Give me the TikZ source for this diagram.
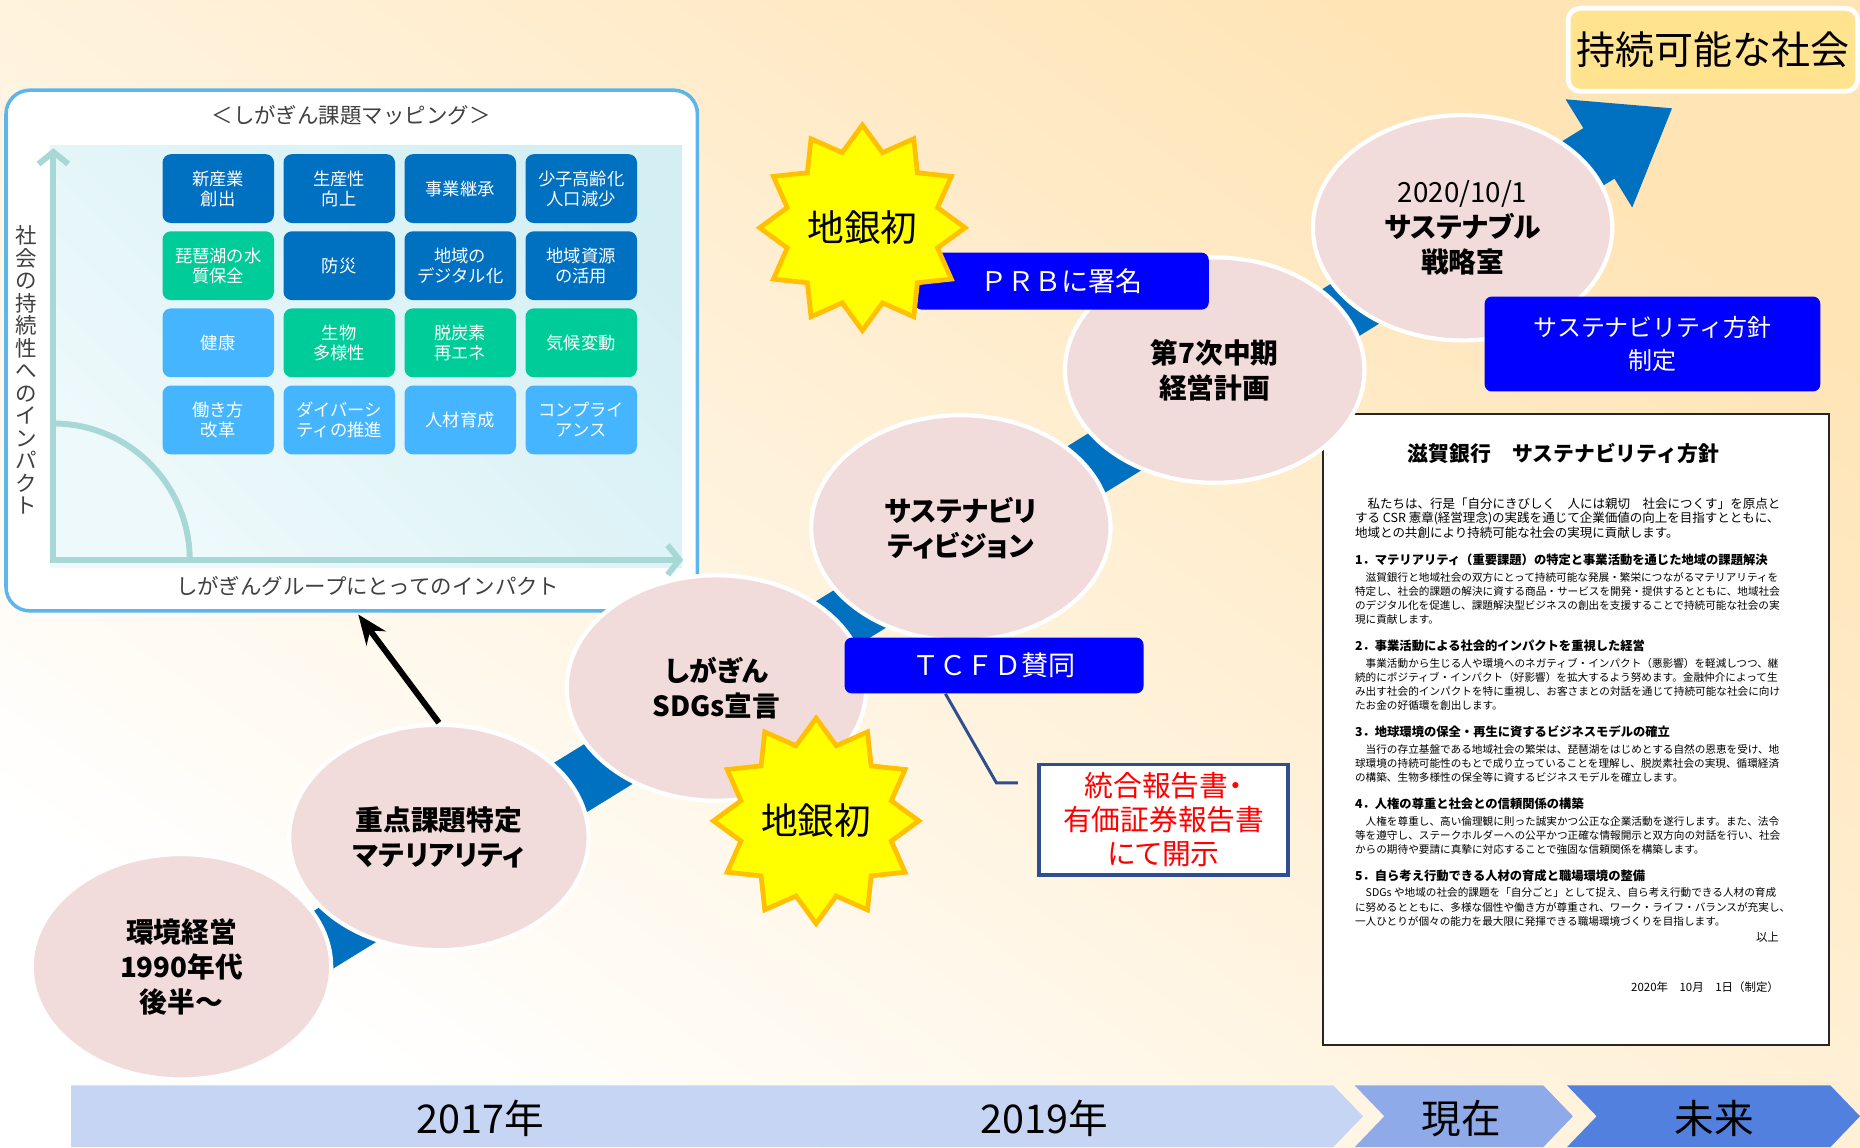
\documentclass[tikz,border=0pt]{standalone}
\usepackage{fontspec}
\setmainfont{Noto Sans CJK JP}
\newfontfamily\milefont[RawFeature=+palt]{Noto Sans CJK JP}
\usepackage{tikz}
\definecolor{BandBlue}{RGB}{0,112,192}
\definecolor{TileDark}{RGB}{0,112,192}
\definecolor{TileGreen}{RGB}{0,204,153}
\definecolor{TileLight}{RGB}{69,181,255}
\definecolor{MilePink}{RGB}{242,220,219}
\definecolor{TagBlue}{RGB}{0,0,255}
\definecolor{BurstYellow}{RGB}{255,255,0}
\definecolor{BurstOrange}{RGB}{255,192,0}
\definecolor{GoalGold}{RGB}{255,227,143}
\definecolor{FrameBlue}{RGB}{91,182,238}
\definecolor{AxisTeal}{RGB}{168,216,214}
\definecolor{PlotPale}{RGB}{238,249,251}
\definecolor{PlotCyan}{RGB}{212,239,244}
\definecolor{NoteNavy}{RGB}{47,78,143}
\definecolor{BarPale}{RGB}{197,213,243}
\definecolor{BarMid}{RGB}{142,170,232}
\definecolor{BarDeep}{RGB}{81,128,223}
\definecolor{PeachBg}{RGB}{255,228,181}
\definecolor{InkGray}{RGB}{64,64,64}
\usetikzlibrary{arrows.meta, shapes.geometric, positioning, backgrounds}
\pgfdeclarelayer{backdrop}
\pgfsetlayers{backdrop,background,main}

\tikzset{
  milestone/.style={ellipse, fill=MilePink, draw=white, line width=0.07cm, minimum width=5.05cm, minimum height=3.8cm,
                    inner sep=0pt, align=center, font=\milefont\bfseries\fontsize{13.3}{16.8}\selectfont},
  band/.style={draw=BandBlue, line width=1cm},
  tile/.style={rounded corners=0.14cm, minimum width=1.88cm, minimum height=1.16cm, inner sep=1pt,
               text=white, align=center, font=\fontsize{8.3}{9.6}\selectfont},
  axisline/.style={draw=AxisTeal, line width=0.1cm},
  tag/.style={fill=TagBlue, rounded corners=0.12cm, text=white, align=center, inner sep=0pt,
              font=\fontsize{13}{16}\selectfont},
  burst/.style={star, star points=12, star point ratio=1.32, minimum size=3.35cm, inner sep=0pt,
                fill=BurstYellow, draw=BurstOrange, line width=0.08cm, font=\fontsize{17.6}{20}\selectfont},
  doctext/.style={inner sep=0pt, align=left, anchor=north west, font=\fontsize{5.1}{6.8}\selectfont},
  yearlabel/.style={font=\fontsize{19}{22}\selectfont}
}

\begin{document}
\begin{tikzpicture}[x=0.02cm, y=-0.02cm]
  \useasboundingbox (0,0) rectangle (1568,967);
  \begin{pgfonlayer}{backdrop}
    \shade[top color=PeachBg, bottom color=white, shading angle=-35] (0,0) rectangle (1568,967);
  \end{pgfonlayer}

  \node[draw=FrameBlue, line width=0.06cm, fill=white, rounded corners=0.4cm,
        minimum width=11.66cm, minimum height=8.78cm] (mapframe) at (296.5,295.5) {};
  \shade[top color=PlotCyan, bottom color=PlotPale, shading angle=-45] (42,123) rectangle (575,478);
  \draw[axisline, -{Straight Barb[length=0.2cm, width=0.5cm]}] (45,475) -- (45,125);
  \draw[axisline, -{Straight Barb[length=0.2cm, width=0.5cm]}] (42,472) -- (576,472);
  \draw[axisline] (45,357) arc[start angle=90, end angle=0, radius=2.3cm];
  \node[text=InkGray, font=\fontsize{10.3}{12}\selectfont] (maptitle) at (296,97) {＜しがぎん課題マッピング＞};
  \node[text=InkGray, align=center, font=\fontsize{10.3}{10.8}\selectfont] (socaxis) at (22,312)
    {社\\会\\の\\持\\続\\性\\へ\\の\\イ\\ン\\パ\\ク\\ト};
  \node[text=InkGray, font=\fontsize{10.3}{12}\selectfont] (groupaxis) at (310,494) {しがぎんグループにとってのインパクト};

  \foreach \col/\row/\clr/\txt in {0/0/TileDark/{新産業\\創出}, 1/0/TileDark/{生産性\\向上}, 2/0/TileDark/事業継承,
      3/0/TileDark/{少子高齢化\\人口減少}, 0/1/TileGreen/{琵琶湖の水\\質保全}, 1/1/TileDark/防災,
      2/1/TileDark/{地域の\\デジタル化}, 3/1/TileDark/{地域資源\\の活用}, 0/2/TileLight/健康,
      1/2/TileGreen/{生物\\多様性}, 2/2/TileGreen/{脱炭素\\再エネ}, 3/2/TileGreen/気候変動,
      0/3/TileLight/{働き方\\改革}, 1/3/TileLight/{ダイバーシ\\ティの推進}, 2/3/TileLight/人材育成,
      3/3/TileLight/{コンプライ\\アンス}}
    \node[tile, fill=\clr] (tile-\col-\row) at (184+102*\col, 159+65*\row) {\txt};

  \node[draw=black!85, line width=0.04cm, fill=white, minimum width=8.54cm, minimum height=10.64cm,
        inner sep=0pt] (policydoc) at (1328.5,615) {};
  \node[font=\fontsize{10}{12}\selectfont\bfseries] (doctitle) at (1318,382) {滋賀銀行　サステナビリティ方針};
  \node[doctext, font=\fontsize{6}{7.1}\selectfont] (docintro) at (1142,419)
    {　私たちは、行是「自分にきびしく　人には親切　社会につくす」を原点と\\
     する CSR 憲章(経営理念)の実践を通じて企業価値の向上を目指すとともに、\\
     地域との共創により持続可能な社会の実現に貢献します。};
  \node[doctext, below=0.25cm of docintro.south west, anchor=north west] (docsec1)
    {{\fontsize{5.9}{6.8}\selectfont\bfseries 1．マテリアリティ（重要課題）の特定と事業活動を通じた地域の課題解決}\\[1pt]
     　滋賀銀行と地域社会の双方にとって持続可能な発展・繁栄につながるマテリアリティを\\
     特定し、社会的課題の解決に資する商品・サービスを開発・提供するとともに、地域社会\\
     のデジタル化を促進し、課題解決型ビジネスの創出を支援することで持続可能な社会の実\\
     現に貢献します。};
  \node[doctext, below=0.25cm of docsec1.south west, anchor=north west] (docsec2)
    {{\fontsize{5.9}{6.8}\selectfont\bfseries 2．事業活動による社会的インパクトを重視した経営}\\[1pt]
     　事業活動から生じる人や環境へのネガティブ・インパクト（悪影響）を軽減しつつ、継\\
     続的にポジティブ・インパクト（好影響）を拡大するよう努めます。金融仲介によって生\\
     み出す社会的インパクトを特に重視し、お客さまとの対話を通じて持続可能な社会に向け\\
     たお金の好循環を創出します。};
  \node[doctext, below=0.25cm of docsec2.south west, anchor=north west] (docsec3)
    {{\fontsize{5.9}{6.8}\selectfont\bfseries 3．地球環境の保全・再生に資するビジネスモデルの確立}\\[1pt]
     　当行の存立基盤である地域社会の繁栄は、琵琶湖をはじめとする自然の恩恵を受け、地\\
     球環境の持続可能性のもとで成り立っていることを理解し、脱炭素社会の実現、循環経済\\
     の構築、生物多様性の保全等に資するビジネスモデルを確立します。};
  \node[doctext, below=0.25cm of docsec3.south west, anchor=north west] (docsec4)
    {{\fontsize{5.9}{6.8}\selectfont\bfseries 4．人権の尊重と社会との信頼関係の構築}\\[1pt]
     　人権を尊重し、高い倫理観に則った誠実かつ公正な企業活動を遂行します。また、法令\\
     等を遵守し、ステークホルダーへの公平かつ正確な情報開示と双方向の対話を行い、社会\\
     からの期待や要請に真摯に対応することで強固な信頼関係を構築します。};
  \node[doctext, below=0.25cm of docsec4.south west, anchor=north west] (docsec5)
    {{\fontsize{5.9}{6.8}\selectfont\bfseries 5．自ら考え行動できる人材の育成と職場環境の整備}\\[1pt]
     　SDGs や地域の社会的課題を「自分ごと」として捉え、自ら考え行動できる人材の育成\\
     に努めるとともに、多様な個性や働き方が尊重され、ワーク・ライフ・バランスが充実し、\\
     一人ひとりが個々の能力を最大限に発揮できる職場環境づくりを目指します。};
  \node[anchor=east, inner sep=0pt, font=\fontsize{5.5}{6.6}\selectfont] (docclose) at (1500,790) {以上};
  \node[anchor=east, inner sep=0pt, font=\fontsize{5.5}{6.6}\selectfont] (docdate) at (1500,832) {2020年　10月　1日（制定）};

  \node[milestone] (env) at (153,815) {環境経営\\1990年代\\後半～};
  \node[milestone] (mat) at (370,706) {重点課題特定\\マテリアリティ};
  \node[milestone] (sdgs) at (604,580) {しがぎん\\SDGs宣言};
  \node[milestone] (vision) at (810,445) {サステナビリ\\ティビジョン};
  \node[milestone] (plan) at (1024,312) {第7次中期\\経営計画};
  \node[milestone] (office) at (1233,192) {{\mdseries 2020/10/1}\\サステナブル\\戦略室};

  \coordinate (bandstart) at (200,837);
  \coordinate (goaltip) at (1410,91);
  \begin{scope}[on background layer]
    \draw[band, -{Triangle[length=1.46cm, width=2.04cm]}] (bandstart) -- (goaltip);
  \end{scope}

  \node[fill=GoalGold, draw=white, line width=0.08cm, rounded corners=0.2cm, minimum width=4.88cm,
        minimum height=1.4cm, inner sep=0pt, font=\fontsize{18.7}{22}\selectfont] (goal) at (1444,42) {持続可能な社会};

  \node[tag, minimum width=4.96cm, minimum height=0.96cm] (prb) at (895,237) {ＰＲＢに署名};
  \node[burst] (prbfirst) at (727,192) {地銀初};
  \node[tag, minimum width=5.04cm, minimum height=0.94cm] (tcfd) at (838,561) {ＴＣＦＤ賛同};
  \node[burst] (sdgsfirst) at (688,692) {地銀初};
  \node[tag, minimum width=5.66cm, minimum height=1.6cm, font=\fontsize{11.5}{16}\selectfont] (policy) at (1393,290)
    {サステナビリティ方針\\制定};

  \node[draw=NoteNavy, line width=0.06cm, fill=white, text=red, align=center, minimum width=4.2cm,
        minimum height=1.86cm, inner sep=0pt, font=\milefont\fontsize{13.8}{16.4}\selectfont] (report) at (981,691)
    {統合報告書・\\有価証券報告書\\にて開示};
  \coordinate (reportbend) at (840,660);
  \draw[NoteNavy, line width=0.05cm] ([xshift=-0.82cm]tcfd.south) -- (reportbend) -- ++(18,0);

  \coordinate (mapfoot) at (302,518);
  \draw[line width=0.1cm, -{Stealth[length=0.5cm, width=0.4cm]}] (mat.north) -- (mapfoot);

  \fill[BarPale] (60,915) -- (1124,915) -- (1149,941) -- (1124,967) -- (60,967) -- cycle;
  \fill[BarMid] (1142,915) -- (1301,915) -- (1326,941) -- (1301,967) -- (1142,967) -- (1167,941) -- cycle;
  \fill[BarDeep] (1321,915) -- (1543,915) -- (1568,941) -- (1543,967) -- (1321,967) -- (1346,941) -- cycle;
  \node[yearlabel] (year2017) at (405,943) {2017年};
  \node[yearlabel] (year2019) at (880,943) {2019年};
  \node[yearlabel] (present) at (1232,943) {現在};
  \node[yearlabel] (future) at (1445,943) {未来};
\end{tikzpicture}
\end{document}
